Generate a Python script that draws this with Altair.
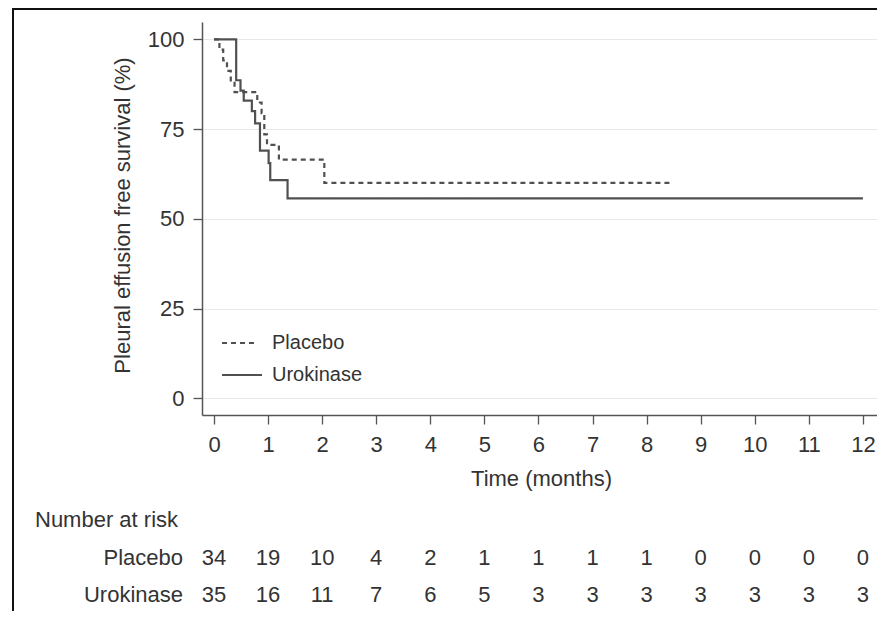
import altair as alt
import pandas as pd

# ---- data ----
placebo_t = [0, 0.10, 0.17, 0.24, 0.31, 0.38, 0.80, 0.88, 0.93, 0.98, 1.20, 2.04, 8.47]
placebo_s = [100, 97.1, 94.1, 91.2, 88.2, 85.3, 82.4, 79.4, 73.5, 70.6, 66.5, 60.0, 60.0]

uro_t = [0, 0.41, 0.49, 0.55, 0.70, 0.76, 0.85, 1.01, 1.04, 1.36, 12.0]
uro_s = [100, 88.6, 85.7, 82.9, 80.0, 76.6, 69.0, 65.5, 60.8, 55.7, 55.7]

months = list(range(13))
placebo_risk = [34, 19, 10, 4, 2, 1, 1, 1, 1, 0, 0, 0, 0]
uro_risk = [35, 16, 11, 7, 6, 5, 3, 3, 3, 3, 3, 3, 3]

groups = ["Placebo", "Urokinase"]
y_ticks = [0, 25, 50, 75, 100]

FONT = "Liberation Sans"
TXT = "#333333"
LINE = "#505050"

curve_df = pd.DataFrame({
    "t": placebo_t + uro_t,
    "s": placebo_s + uro_s,
    "group": ["Placebo"] * len(placebo_t) + ["Urokinase"] * len(uro_t),
})

xscale = alt.Scale(domain=[-0.222, 12.26], nice=False, zero=False)
yscale = alt.Scale(domain=[-4.65, 104.82], nice=False, zero=False)

x_axis = alt.Axis(
    values=months, grid=False, title="Time (months)",
    tickSize=9, tickColor="#555555", tickWidth=1.3,
    domainColor="#555555", domainWidth=1.5,
    labelFont=FONT, labelFontSize=22, labelColor=TXT, labelPadding=10,
    labelFlush=False, labelOverlap=False,
    titleFont=FONT, titleFontSize=22, titleFontWeight="normal", titleColor=TXT,
    titleX=339, titleY=63, titleAlign="center", titleBaseline="middle",
)
y_axis = alt.Axis(
    values=y_ticks, grid=True, gridColor="#e8e8e8", gridWidth=1,
    title="Pleural effusion free survival (%)",
    tickSize=9, tickColor="#555555", tickWidth=1.3,
    domainColor="#555555", domainWidth=1.5,
    labelFont=FONT, labelFontSize=22, labelColor=TXT, labelPadding=9,
    labelFlush=False,
    titleFont=FONT, titleFontSize=22, titleFontWeight="normal", titleColor=TXT,
    titleAngle=270, titleX=-80, titleY=193, titleAlign="center", titleBaseline="middle",
)

lines = alt.Chart(curve_df).mark_line(
    interpolate="step-after", strokeWidth=2.2, color=LINE
).encode(
    x=alt.X("t:Q", scale=xscale, axis=x_axis),
    y=alt.Y("s:Q", scale=yscale, axis=y_axis),
    strokeDash=alt.StrokeDash(
        "group:N",
        scale=alt.Scale(domain=groups, range=[[5, 4], [1, 0]]),
        legend=None,
    ),
)

layers = [lines]

# ---- legend inside plot ----
leg_y = [321, 353]
for g, ly, dash, x2 in [("Placebo", leg_y[0], [5, 4], 56), ("Urokinase", leg_y[1], [1, 0], 60)]:
    d = pd.DataFrame({"label": [g]})
    layers.append(
        alt.Chart(d).mark_rule(strokeWidth=2, color=LINE, strokeDash=dash).encode(
            x=alt.value(20), x2=alt.value(x2), y=alt.value(ly)
        )
    )
    layers.append(
        alt.Chart(d).mark_text(
            align="left", baseline="middle", font=FONT, fontSize=20, color=TXT
        ).encode(x=alt.value(70), y=alt.value(ly), text="label:N")
    )

# ---- number at risk table ----
row_y = {"Placebo": 536, "Urokinase": 573}
for g, vals in [("Placebo", placebo_risk), ("Urokinase", uro_risk)]:
    d = pd.DataFrame({"t": months, "n": vals})
    layers.append(
        alt.Chart(d).mark_text(
            align="center", baseline="middle", font=FONT, fontSize=22, color=TXT
        ).encode(
            x=alt.X("t:Q", scale=xscale, title="Time (months)"),
            y=alt.value(row_y[g]),
            text="n:Q",
        )
    )
    layers.append(
        alt.Chart(pd.DataFrame({"label": [g]})).mark_text(
            align="right", baseline="middle", font=FONT, fontSize=22, color=TXT
        ).encode(x=alt.value(-19), y=alt.value(row_y[g]), text="label:N")
    )

layers.append(
    alt.Chart(pd.DataFrame({"label": ["Number at risk"]})).mark_text(
        align="left", baseline="middle", font=FONT, fontSize=22, color=TXT
    ).encode(x=alt.value(-167), y=alt.value(498), text="label:N")
)

# ---- figure frame (left and top border) ----
frame = pd.DataFrame({"k": [1]})
layers.append(
    alt.Chart(frame).mark_rule(color="#111111", strokeWidth=2).encode(
        x=alt.value(-189), y=alt.value(-14), y2=alt.value(589)
    )
)
layers.append(
    alt.Chart(frame).mark_rule(color="#111111", strokeWidth=2).encode(
        x=alt.value(-190), x2=alt.value(675), y=alt.value(-13)
    )
)

chart = alt.layer(*layers).properties(
    width=675,
    height=393,
    autosize=alt.AutoSizeParams(type="none"),
    padding={"left": 194, "top": 14, "right": 0, "bottom": 196},
    background="white",
).configure_view(stroke=None)

chart.save("out.html", embed_options={"renderer": "svg", "actions": False})
